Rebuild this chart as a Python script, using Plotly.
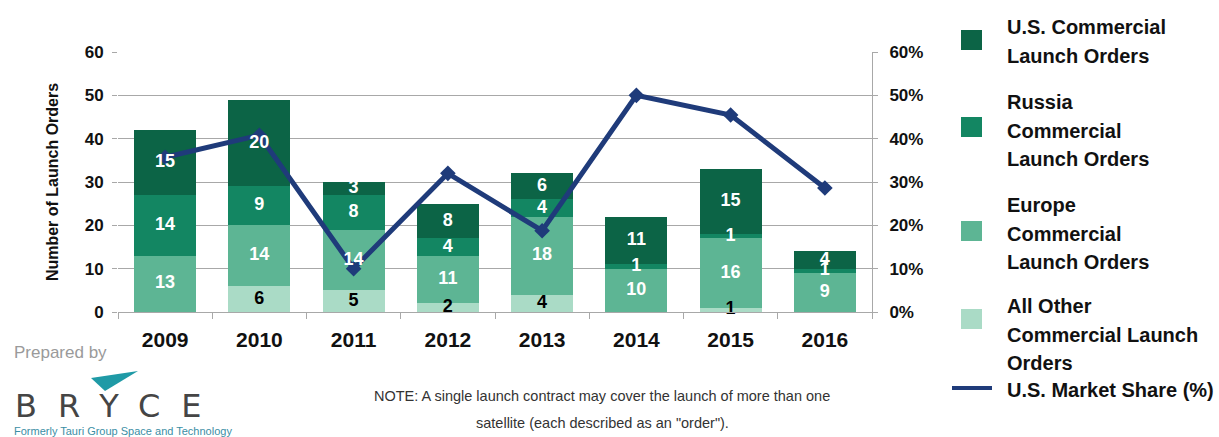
import plotly.graph_objects as go

# ---- data ----
years = ["2009", "2010", "2011", "2012", "2013", "2014", "2015", "2016"]
other_orders = [0, 6, 5, 2, 4, 0, 1, 0]
europe_orders = [13, 14, 14, 11, 18, 10, 16, 9]
russia_orders = [14, 9, 8, 4, 4, 1, 1, 1]
us_orders = [15, 20, 3, 8, 6, 11, 15, 4]
us_share = [0.357, 0.408, 0.10, 0.32, 0.1875, 0.50, 0.4545, 0.286]

orders_ticks = [0, 10, 20, 30, 40, 50, 60]
share_ticks = [0, 0.1, 0.2, 0.3, 0.4, 0.5, 0.6]

legend_labels = [
    ["U.S. Commercial", "Launch Orders"],
    ["Russia", "Commercial", "Launch Orders"],
    ["Europe", "Commercial", "Launch Orders"],
    ["All Other", "Commercial Launch", "Orders"],
]
line_label = "U.S. Market Share (%)"

# ---- style ----
W, H = 1219, 437
ML, MR, MT, MB = 118, 347, 52, 125
FONT = "Liberation Sans, Arial, sans-serif"
C_US = "#0c6446"
C_RU = "#138662"
C_EU = "#5db594"
C_OT = "#aadbc6"
C_LINE = "#1f3b7a"
GRID = "#a8a8a8"
INK = "#111"

ORDERS_RANGE = [0, 60]
SHARE_RANGE = [0, 0.6]
# factor that maps an order count onto the overlaid share axis
TO_SHARE = SHARE_RANGE[1] / ORDERS_RANGE[1]


def px(x):
    return (x - ML) / (W - ML - MR)


def py(y):
    return (H - MB - y) / (H - MT - MB)


fig = go.Figure()
stack = [
    (other_orders, C_OT, "black"),
    (europe_orders, C_EU, "white"),
    (russia_orders, C_RU, "white"),
    (us_orders, C_US, "white"),
]
for vals, col, _ in stack:
    fig.add_trace(go.Bar(
        x=years, y=vals, marker=dict(color=col, line=dict(width=0)),
        showlegend=False, hoverinfo="skip",
    ))

fig.add_trace(go.Scatter(
    x=years, y=us_share, yaxis="y2", mode="lines+markers",
    line=dict(color=C_LINE, width=5),
    marker=dict(symbol="diamond", size=12, color=C_LINE),
    showlegend=False, hoverinfo="skip",
))

# segment value labels at each segment's middle, on the overlaid axis so they sit above the line
base = [0] * len(years)
for vals, _, tcol in stack:
    mids = [(b + v / 2) * TO_SHARE for b, v in zip(base, vals)]
    labels = [str(v) if v else "" for v in vals]
    fig.add_trace(go.Scatter(
        x=years, y=mids, yaxis="y2", mode="text", text=labels, textposition="middle center",
        textfont=dict(family=FONT, size=18, color=tcol, weight="bold"),
        cliponaxis=False, showlegend=False, hoverinfo="skip",
    ))
    base = [b + v for b, v in zip(base, vals)]

fig.update_layout(
    width=W, height=H,
    margin=dict(l=ML, r=MR, t=MT, b=MB),
    paper_bgcolor="white", plot_bgcolor="white",
    barmode="stack", bargap=0.34,
    xaxis=dict(
        type="category", showgrid=False, showline=True, linecolor=GRID, linewidth=1,
        ticks="outside", tickson="boundaries", ticklen=6, tickcolor=GRID,
        tickfont=dict(family=FONT, size=21, color=INK, weight="bold"),
        ticklabelstandoff=9,
    ),
    yaxis=dict(
        range=ORDERS_RANGE, tickvals=orders_ticks, showgrid=True, gridcolor=GRID, gridwidth=1,
        zeroline=False, showline=False, ticks="outside", ticklen=5, tickcolor=GRID,
        tickfont=dict(family=FONT, size=17, color=INK, weight="bold"),
        ticklabelstandoff=5,
        title=dict(text="Number of Launch Orders", standoff=22,
                   font=dict(family=FONT, size=16, color=INK, weight="bold")),
    ),
    yaxis2=dict(
        range=SHARE_RANGE, tickvals=share_ticks, tickformat=".0%", overlaying="y", side="right",
        showgrid=False, zeroline=False, showline=True, linecolor=GRID, linewidth=1,
        ticks="outside", ticklen=5, tickcolor=GRID,
        tickfont=dict(family=FONT, size=17, color=INK, weight="bold"),
        ticklabelstandoff=8,
    ),
)

# ---- legend ----
legend_colors = [C_US, C_RU, C_EU, C_OT]
swatch_y = [40, 127, 231, 319]
first_line_y = [26, 101, 204, 305]
LINE_PITCH = 28.7
shapes = []
annotations = []
legend_font = dict(family=FONT, size=20, color=INK, weight="bold")
for lines, col, sy, ty in zip(legend_labels, legend_colors, swatch_y, first_line_y):
    shapes.append(dict(type="rect", xref="paper", yref="paper",
                       x0=px(961), x1=px(982), y0=py(sy - 10), y1=py(sy + 10),
                       fillcolor=col, line=dict(width=0)))
    for i, ln in enumerate(lines):
        annotations.append(dict(text=ln, xref="paper", yref="paper", x=px(1005),
                                y=py(ty + 1 + i * LINE_PITCH),
                                xanchor="left", yanchor="middle", showarrow=False,
                                font=legend_font))
shapes.append(dict(type="line", xref="paper", yref="paper", x0=px(952), x1=px(992),
                   y0=py(388), y1=py(388), line=dict(color=C_LINE, width=4)))
annotations.append(dict(text=line_label, xref="paper", yref="paper", x=px(1005), y=py(390),
                        xanchor="left", yanchor="middle", showarrow=False,
                        font=legend_font))

# ---- footnote ----
note_font = dict(family=FONT, size=14.5, color="#333")
annotations.append(dict(text="NOTE: A single launch contract may cover the launch of more than one",
                        xref="paper", yref="paper", x=px(602), y=py(396), xanchor="center",
                        yanchor="middle", showarrow=False, font=note_font))
annotations.append(dict(text="satellite (each described as an \"order\").",
                        xref="paper", yref="paper", x=px(602), y=py(423), xanchor="center",
                        yanchor="middle", showarrow=False, font=note_font))

# ---- company mark ----
annotations.append(dict(text="Prepared by", xref="paper", yref="paper", x=px(12), y=py(353),
                        xanchor="left", yanchor="middle", showarrow=False,
                        font=dict(family=FONT, size=17, color="#9a9a9a")))
annotations.append(dict(text="<span style=\"letter-spacing:21px\">BRYCE</span>",
                        xref="paper", yref="paper", x=px(13), y=py(406),
                        xanchor="left", yanchor="middle", showarrow=False,
                        font=dict(family="DejaVu Sans", size=32, color="#454545")))
annotations.append(dict(text="Formerly Tauri Group Space and Technology", xref="paper", yref="paper",
                        x=px(12), y=py(431), xanchor="left", yanchor="middle", showarrow=False,
                        font=dict(family=FONT, size=11, color="#3b8ea5")))
chevron = [(91, 378), (138, 371), (105, 391)]
path = "M " + " L ".join(f"{px(x):.5f},{py(y):.5f}" for x, y in chevron) + " Z"
shapes.append(dict(type="path", xref="paper", yref="paper", path=path,
                   fillcolor="#1f9aa6", line=dict(width=0)))

fig.update_layout(shapes=shapes, annotations=annotations)
fig.write_html("out.html")
